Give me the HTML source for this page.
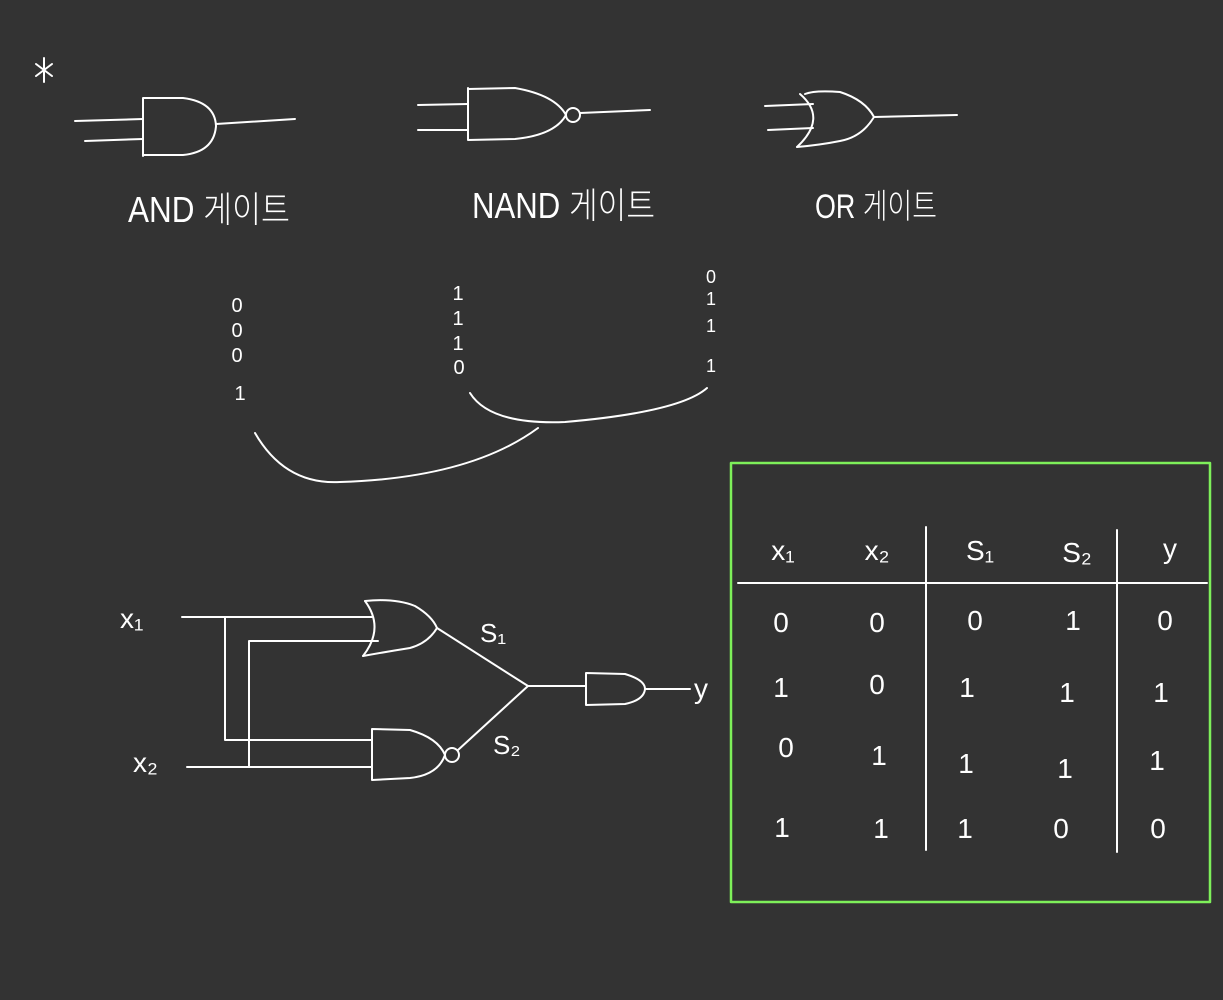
<!DOCTYPE html>
<html><head><meta charset="utf-8"><style>
html,body{margin:0;padding:0;background:#333333;}
svg{display:block}
text{font-family:"Liberation Sans","Noto Sans CJK KR",sans-serif;fill:#fff;font-weight:300}
</style></head><body>
<svg width="1223" height="1000" viewBox="0 0 1223 1000" xmlns="http://www.w3.org/2000/svg">
<rect width="1223" height="1000" fill="#333333"/>
<g fill="none" stroke="#fff" stroke-width="2" stroke-linecap="round" stroke-linejoin="round">
 <g>
  <path d="M44 58 L44 82 M36 64 L52 76 M52 64 L36 76"/>
 </g>
 <g>
  <path d="M75 121 L143 119 M85 141 L143 139"/>
  <path d="M143 98 L143 156 M143 98 L183 98 Q215 102 216 126 Q214 152 183 155 L143 155"/>
  <path d="M216 124 L295 119"/>
 </g>
 <g>
  <path d="M418 105 L468 104 M418 130 L468 130"/>
  <path d="M468 88 L468 140 M468 89 L515 88 Q555 95 566 115 Q555 135 515 139 L468 140"/>
  <circle cx="573" cy="115" r="7"/>
  <path d="M580 113 L650 110"/>
 </g>
 <g>
  <path d="M765 106 L813 104 M768 130 L813 128"/>
  <path d="M800 94 Q828 118 797 147"/>
  <path d="M805 94 Q815 90 840 92 Q865 100 874 117 Q862 137 840 141 Q820 145 797 147"/>
  <path d="M874 117 L957 115"/>
 </g>
 <path d="M255 433 Q285 485 340 482 Q470 478 538 428"/>
 <path d="M470 393 Q490 425 565 422 Q680 412 707 388"/>
 <g>
  <path d="M182 617 L372 617 M225 617 L225 740 L372 740"/>
  <path d="M187 767 L372 767 M249 767 L249 641 L378 641"/>
  <path d="M365 601 Q385 628 363 656"/>
  <path d="M365 601 Q395 598 415 606 Q432 616 437 628 Q428 643 410 648 Q385 652 363 656"/>
  <path d="M372 729 L372 780 M372 729 L410 730 Q438 738 445 755 Q438 775 410 778 L372 780"/>
  <circle cx="452" cy="755" r="7"/>
  <path d="M437 628 L528 686 M458 750 L528 686 M528 686 L586 686"/>
  <path d="M586 673 L586 705 M586 673 L625 674 Q645 680 645 689 Q644 700 625 704 L586 705"/>
  <path d="M645 689 L690 689"/>
 </g>
 <rect x="731" y="463" width="479" height="439" stroke="#7ef05a" stroke-width="2.5"/>
 <path d="M738 583 L1207 583 M926 527 L926 850 M1117 530 L1117 852"/>
</g>
<text x="128" y="222" font-size="36" textLength="162" lengthAdjust="spacingAndGlyphs">AND 게이트</text>
<text x="472" y="218" font-size="36" textLength="183" lengthAdjust="spacingAndGlyphs">NAND 게이트</text>
<text x="815" y="218" font-size="34" textLength="122" lengthAdjust="spacingAndGlyphs">OR 게이트</text>
<g font-size="20" text-anchor="middle">
 <text x="237" y="312">0</text><text x="237" y="337">0</text><text x="237" y="362">0</text><text x="240" y="400">1</text>
</g>
<g font-size="20" text-anchor="middle">
 <text x="458" y="300">1</text><text x="458" y="325">1</text><text x="458" y="350">1</text><text x="459" y="374">0</text>
</g>
<g font-size="18" text-anchor="middle">
 <text x="711" y="283">0</text><text x="711" y="305">1</text><text x="711" y="332">1</text><text x="711" y="372">1</text>
</g>
<text x="120" y="628" font-size="28">x₁</text>
<text x="133" y="772" font-size="28">x₂</text>
<text x="480" y="642" font-size="26">S₁</text>
<text x="493" y="754" font-size="26">S₂</text>
<text x="694" y="698" font-size="28">y</text>
<g font-size="28" text-anchor="middle">
 <text x="783" y="560">x₁</text>
 <text x="877" y="560">x₂</text>
 <text x="980" y="560">S₁</text>
 <text x="1077" y="562">S₂</text>
 <text x="1170" y="558">y</text>
 <g><text x="781" y="632">0</text><text x="877" y="632">0</text><text x="975" y="630">0</text><text x="1073" y="630">1</text><text x="1165" y="630">0</text></g>
 <g><text x="781" y="697">1</text><text x="877" y="694">0</text><text x="967" y="697">1</text><text x="1067" y="702">1</text><text x="1161" y="702">1</text></g>
 <g><text x="786" y="757">0</text><text x="879" y="765">1</text><text x="966" y="773">1</text><text x="1065" y="778">1</text><text x="1157" y="770">1</text></g>
 <g><text x="782" y="837">1</text><text x="881" y="838">1</text><text x="965" y="838">1</text><text x="1061" y="838">0</text><text x="1158" y="838">0</text></g>
</g>
</svg>
</body></html>
